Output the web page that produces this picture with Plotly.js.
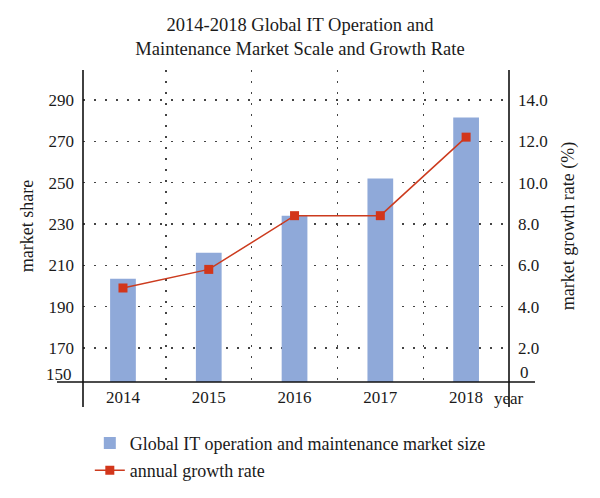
<!DOCTYPE html>
<html>
<head>
<meta charset="utf-8">
<script src="https://cdn.plot.ly/plotly-3.0.1.min.js"></script>
<style>html,body{margin:0;padding:0;background:#fff;}#chart{width:600px;height:498px;}</style>
</head>
<body>
<div id="chart"></div>
<script>
const years = ['2014', '2015', '2016', '2017', '2018'];
const marketSize = [203.5, 216, 234, 252, 281.5];
const growthRate = [4.9, 5.8, 8.4, 8.4, 12.2];
const leftTicks = [170, 190, 210, 230, 250, 270, 290];
const rightTicks = [2, 4, 6, 8, 10, 12, 14];
const rightTickText = ['2.0', '4.0', '6.0', '8.0', '10.0', '12.0', '14.0'];
const barName = 'Global IT operation and maintenance market size';
const lineName = 'annual growth rate';

const FONT = 'Liberation Serif, Times New Roman, serif';
const GRIDDASH = '1.6px,9.4px';

const traces = [
  {
    type: 'bar', x: years, y: marketSize, name: barName, width: 0.3,
    marker: {color: '#8FA9D9'}, legendgroup: 'a', hoverinfo: 'x+y'
  },
  {
    type: 'scatter', mode: 'lines+markers', x: years, y: growthRate, name: lineName,
    yaxis: 'y2', legendgroup: 'b',
    line: {color: '#CC3B1E', width: 1.5},
    marker: {symbol: 'square', size: 9, color: '#D2361B'}
  }
];

const axisLine = {color: '#111', width: 1.6};
const layout = {
  width: 600, height: 498,
  margin: {l: 83, r: 91, t: 70, b: 116, autoexpand: false},
  paper_bgcolor: '#fff', plot_bgcolor: '#fff',
  font: {family: FONT, color: '#1a1a1a', size: 17},
  title: {
    text: '2014-2018 Global IT Operation and<br>Maintenance Market Scale and Growth Rate',
    x: 0.5, xref: 'container', y: 0.938, yref: 'container', yanchor: 'top',
    font: {family: FONT, size: 18.5, color: '#1a1a1a'}
  },
  xaxis: {
    type: 'category', range: [-0.466, 4.5], tickson: 'boundaries',
    showgrid: true, gridcolor: '#444', gridwidth: 1.3, griddash: GRIDDASH,
    ticks: '', showline: false, zeroline: false, ticklabelstandoff: 3,
    tickfont: {size: 17}
  },
  yaxis: {
    range: [153.5, 304.5], tickvals: leftTicks,
    showgrid: true, gridcolor: '#444', gridwidth: 1.3, griddash: GRIDDASH,
    ticks: '', showline: false, zeroline: false, ticklabelstandoff: 8,
    tickfont: {size: 17},
    title: {text: 'market share', font: {size: 18}, standoff: 10}
  },
  yaxis2: {
    overlaying: 'y', side: 'right', range: [0.35, 15.45],
    tickvals: rightTicks, ticktext: rightTickText,
    showgrid: false, ticks: '', showline: false, zeroline: false, ticklabelstandoff: 8,
    tickfont: {size: 17},
    title: {text: 'market growth rate (%)', font: {size: 18}, standoff: 14}
  },
  legend: {
    x: 0.016, y: -0.137, xanchor: 'left', yanchor: 'top', orientation: 'v',
    font: {size: 18}, bgcolor: 'rgba(0,0,0,0)', traceorder: 'grouped', tracegroupgap: 1
  },
  showlegend: true,
  shapes: [
    {type: 'line', xref: 'paper', yref: 'paper', x0: -0.061, x1: 1.061, y0: 0, y1: 0, line: axisLine},
    {type: 'line', xref: 'paper', yref: 'paper', x0: 0, x1: 0, y0: -0.08, y1: 1, line: axisLine},
    {type: 'line', xref: 'paper', yref: 'paper', x0: 1, x1: 1, y0: -0.08, y1: 1, line: axisLine}
  ],
  annotations: [
    {text: '150', xref: 'paper', yref: 'paper', x: 0, y: 0, xanchor: 'right', yanchor: 'bottom',
     xshift: -9, yshift: -4, showarrow: false, font: {size: 17}},
    {text: '0', xref: 'paper', yref: 'paper', x: 1, y: 0, xanchor: 'left', yanchor: 'bottom',
     xshift: 9, yshift: -2, showarrow: false, font: {size: 17}},
    {text: 'year', xref: 'paper', yref: 'paper', x: 1, y: 0, xanchor: 'center', yanchor: 'middle',
     yshift: -16, showarrow: false, font: {size: 17}}
  ]
};

Plotly.newPlot('chart', traces, layout, {displayModeBar: false, staticPlot: true});
</script>
</body>
</html>
